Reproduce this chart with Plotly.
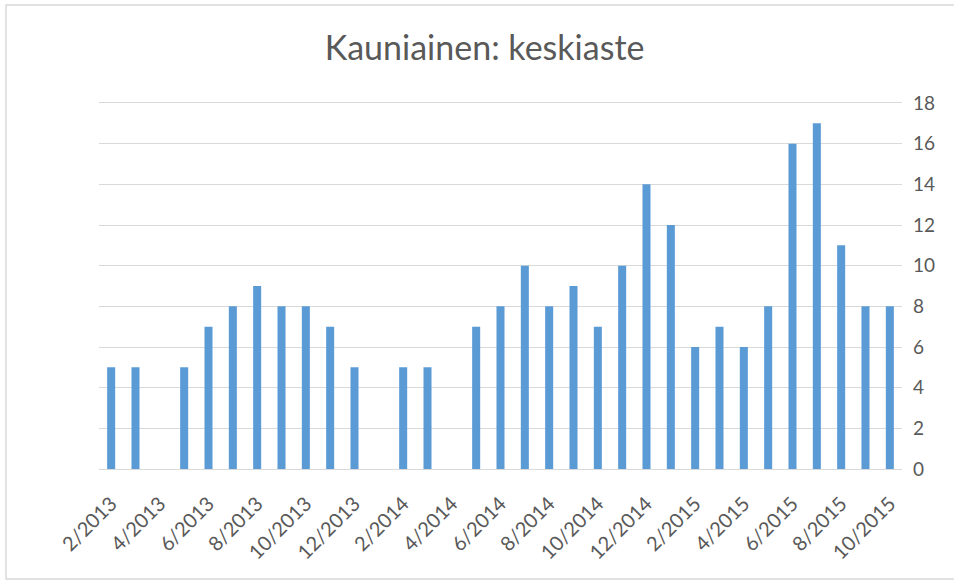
import plotly.graph_objects as go

months = ["2/2013", "3/2013", "4/2013", "5/2013", "6/2013", "7/2013", "8/2013", "9/2013",
          "10/2013", "11/2013", "12/2013", "1/2014", "2/2014", "3/2014", "4/2014", "5/2014",
          "6/2014", "7/2014", "8/2014", "9/2014", "10/2014", "11/2014", "12/2014", "1/2015",
          "2/2015", "3/2015", "4/2015", "5/2015", "6/2015", "7/2015", "8/2015", "9/2015",
          "10/2015"]
values = [5, 5, None, 5, 7, 8, 9, 8,
          8, 7, 5, None, 5, 5, None, 7,
          8, 10, 8, 9, 7, 10, 14, 12,
          6, 7, 6, 8, 16, 17, 11, 8,
          8]
tick_labels = months[::2]
y_ticks = list(range(0, 19, 2))

TXT = "#595959"
GRID = "#d9d9d9"

fig = go.Figure(go.Bar(x=months, y=values, marker=dict(color="#5b9bd5", line=dict(width=0)),
                       hoverinfo="x+y"))

fig.update_layout(
    width=954, height=581,
    margin=dict(l=99, r=52, t=103, b=112),
    paper_bgcolor="white", plot_bgcolor="white",
    bargap=0.67,
    showlegend=False,
    font=dict(family="Lato, sans-serif", color=TXT),
    title=dict(text="Kauniainen: keskiaste", x=0.508, xanchor="center", y=0.917, yanchor="middle",
               font=dict(size=34, color=TXT, family="Lato, sans-serif")),
    xaxis=dict(type="category", categoryorder="array", categoryarray=months,
               tickvals=tick_labels, ticktext=tick_labels, tickangle=-45,
               tickfont=dict(size=20, color=TXT), showgrid=False,
               showline=True, mirror=True, linecolor=GRID, linewidth=1.3, ticks="",
               ticklabelstandoff=14,
               range=[-0.5, len(months) - 0.5]),
    yaxis=dict(side="right", range=[0, 18], tickvals=y_ticks, showgrid=True, gridcolor=GRID,
               gridwidth=1.2, zeroline=False, showline=False, ticks="",
               tickfont=dict(size=19, color=TXT), ticklabelstandoff=10),
    shapes=[dict(type="rect", xref="paper", yref="paper",
                 x0=-0.1158, x1=1.08, y0=-0.3005, y1=1.268,
                 line=dict(color=GRID, width=1.5), fillcolor="rgba(0,0,0,0)", layer="below")],
)

fig.write_html("out.html", config={"displayModeBar": False},
               post_script="document.body.style.margin='0';")
